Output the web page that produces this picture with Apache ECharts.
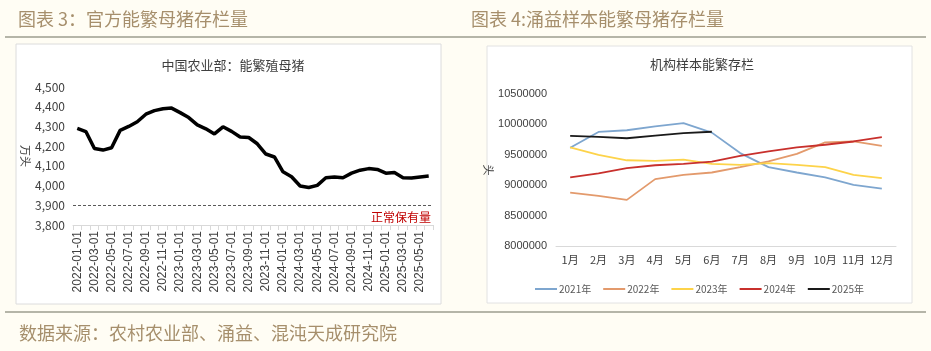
<!DOCTYPE html>
<html>
<head>
<meta charset="utf-8">
<script src="https://cdn.jsdelivr.net/npm/echarts@6/dist/echarts.min.js"></script>
<style>
html, body { margin: 0; padding: 0; background: #fffdf4; }
#main { width: 931px; height: 351px; }
</style>
</head>
<body>
<div id="main"></div>
<script>
// 左图：农业部能繁母猪存栏（万头）
var months = [];
for (var y = 2022; y <= 2025; y++) {
    for (var m = 1; m <= 12; m++) {
        if (y === 2025 && m > 6) break;
        months.push(y + '-' + (m < 10 ? '0' + m : m) + '-01');
    }
}
var sowStock = [
    4290, 4274, 4188, 4180, 4192, 4280, 4300, 4324, 4362, 4380, 4390, 4393,
    4370, 4345, 4308, 4288, 4262, 4298, 4275, 4246, 4244, 4212, 4160, 4145,
    4070, 4045, 3998, 3990, 4001, 4040, 4043, 4040, 4063, 4078, 4086, 4082,
    4063, 4066, 4040, 4038, 4043, 4048
];
var normalLevel = 3900;

// 右图：涌益样本能繁存栏（头）
var monthCats = ['1月','2月','3月','4月','5月','6月','7月','8月','9月','10月','11月','12月'];
var yearNames = ['2021年','2022年','2023年','2024年','2025年'];
var s2021 = [9615000, 9876000, 9904000, 9966000, 10020000, 9865000, 9528000, 9297000, 9209000, 9127000, 9006000, 8945000];
var s2022 = [8879000, 8825000, 8759000, 9100000, 9170000, 9209000, 9297000, 9390000, 9516000, 9703000, 9719000, 9648000];
var s2023 = [9622000, 9500000, 9410000, 9400000, 9422000, 9352000, 9335000, 9363000, 9335000, 9297000, 9170000, 9116000];
var s2024 = [9130000, 9195000, 9281000, 9328000, 9352000, 9388000, 9484000, 9555000, 9621000, 9665000, 9719000, 9792000];
var s2025 = [9810000, 9795000, 9772000, 9815000, 9855000, 9879000];
var yearColors = ['#7ea6cf', '#e39a6c', '#fdd34a', '#c8302c', '#1a1a1a'];

var cjk = '"Noto Sans CJK SC", sans-serif';

var chart = echarts.init(document.getElementById('main'));
var option = {
    backgroundColor: '#fffdf4',
    animation: false,
    textStyle: { fontFamily: cjk },
    graphic: [
        { type: 'line', shape: { x1: 5, y1: 37, x2: 926, y2: 37 }, style: { stroke: '#b5b5a8', lineWidth: 2 }, z: -10 },
        { type: 'line', shape: { x1: 5, y1: 312, x2: 926, y2: 312 }, style: { stroke: '#b5b5a8', lineWidth: 2 }, z: -10 },
        { type: 'rect', shape: { x: 16, y: 44, width: 425, height: 260 }, style: { fill: '#ffffff', stroke: '#dcdcdc', lineWidth: 1 }, z: -10 },
        { type: 'rect', shape: { x: 487, y: 46, width: 425, height: 257 }, style: { fill: '#ffffff', stroke: '#e2e2e2', lineWidth: 1 }, z: -10 }
    ],
    title: [
        { text: '图表 3：官方能繁母猪存栏量', left: 13, top: 5, textStyle: { fontSize: 18, fontWeight: 'normal', color: '#a68f6c', fontFamily: cjk } },
        { text: '图表 4:涌益样本能繁母猪存栏量', left: 466, top: 5, textStyle: { fontSize: 18, fontWeight: 'normal', color: '#a68f6c', fontFamily: cjk } },
        { text: '中国农业部：能繁殖母猪', left: 228, textAlign: 'center', top: 54, textStyle: { fontSize: 13, fontWeight: 'normal', color: '#404040', fontFamily: cjk } },
        { text: '机构样本能繁存栏', left: 697, textAlign: 'center', top: 53, textStyle: { fontSize: 13, fontWeight: 'normal', color: '#404040', fontFamily: cjk } },
        { text: '数据来源：农村农业部、涌益、混沌天成研究院', left: 14, top: 319, textStyle: { fontSize: 18, fontWeight: 'normal', color: '#a68f6c', fontFamily: cjk } }
    ],
    legend: {
        data: yearNames,
        left: 530,
        top: 279,
        itemWidth: 22,
        itemHeight: 2,
        itemGap: 12,
        icon: 'rect',
        textStyle: { fontSize: 10, color: '#595959', fontFamily: cjk, padding: [0, 0, 0, -3] }
    },
    grid: [
        { left: 73, right: 498, top: 87, bottom: 126 },
        { left: 556, right: 35, top: 94, bottom: 105 }
    ],
    xAxis: [
        {
            type: 'category',
            gridIndex: 0,
            data: months,
            boundaryGap: true,
            axisLine: { lineStyle: { color: '#d9d9d9' } },
            axisTick: { show: true, interval: 0, lineStyle: { color: '#d9d9d9' } },
            axisLabel: { interval: 1, rotate: 90, fontSize: 12, color: '#404040', fontFamily: 'Liberation Sans, sans-serif', margin: 6 }
        },
        {
            type: 'category',
            gridIndex: 1,
            data: monthCats,
            boundaryGap: true,
            axisLine: { lineStyle: { color: '#d9d9d9' } },
            axisTick: { show: false },
            axisLabel: { interval: 0, fontSize: 11, color: '#404040', margin: 8 }
        }
    ],
    yAxis: [
        {
            type: 'value',
            gridIndex: 0,
            min: 3800,
            max: 4500,
            interval: 100,
            name: '万头',
            nameLocation: 'middle',
            nameRotate: -90,
            nameGap: 42,
            nameTextStyle: { fontSize: 11, color: '#404040' },
            axisLine: { show: false },
            axisTick: { show: false },
            splitLine: { show: false },
            axisLabel: {
                fontSize: 12, color: '#404040', margin: 8,
                formatter: function (v) { return String(v).replace(/(\d)(\d{3})$/, '$1,$2'); }
            }
        },
        {
            type: 'value',
            gridIndex: 1,
            min: 8000000,
            max: 10500000,
            interval: 500000,
            name: '头',
            nameLocation: 'middle',
            nameRotate: -90,
            nameGap: 56,
            nameTextStyle: { fontSize: 11, color: '#404040' },
            axisLine: { show: false },
            axisTick: { show: false },
            splitLine: { show: false },
            axisLabel: {
                fontSize: 11, color: '#404040', margin: 9, fontFamily: 'Liberation Sans, sans-serif',
                formatter: function (v) { return String(v); }
            }
        }
    ],
    series: [
        {
            name: '能繁母猪',
            type: 'line',
            xAxisIndex: 0,
            yAxisIndex: 0,
            data: sowStock,
            symbol: 'none',
            lineStyle: { color: '#000000', width: 3.5 },
            markLine: {
                silent: true,
                symbol: 'none',
                data: [{ yAxis: normalLevel }],
                lineStyle: { type: [3, 2], color: '#595959', width: 1 },
                label: { position: 'insideEndBottom', formatter: '正常保有量', color: '#c00000', fontSize: 12, distance: [2, 6] }
            }
        },
        { name: yearNames[0], type: 'line', xAxisIndex: 1, yAxisIndex: 1, data: s2021, symbol: 'none', lineStyle: { color: yearColors[0], width: 1.8 }, itemStyle: { color: yearColors[0] } },
        { name: yearNames[1], type: 'line', xAxisIndex: 1, yAxisIndex: 1, data: s2022, symbol: 'none', lineStyle: { color: yearColors[1], width: 1.8 }, itemStyle: { color: yearColors[1] } },
        { name: yearNames[2], type: 'line', xAxisIndex: 1, yAxisIndex: 1, data: s2023, symbol: 'none', lineStyle: { color: yearColors[2], width: 1.8 }, itemStyle: { color: yearColors[2] } },
        { name: yearNames[3], type: 'line', xAxisIndex: 1, yAxisIndex: 1, data: s2024, symbol: 'none', lineStyle: { color: yearColors[3], width: 1.8 }, itemStyle: { color: yearColors[3] } },
        { name: yearNames[4], type: 'line', xAxisIndex: 1, yAxisIndex: 1, data: s2025, symbol: 'none', lineStyle: { color: yearColors[4], width: 1.8 }, itemStyle: { color: yearColors[4] } }
    ]
};
chart.setOption(option);
</script>
</body>
</html>
